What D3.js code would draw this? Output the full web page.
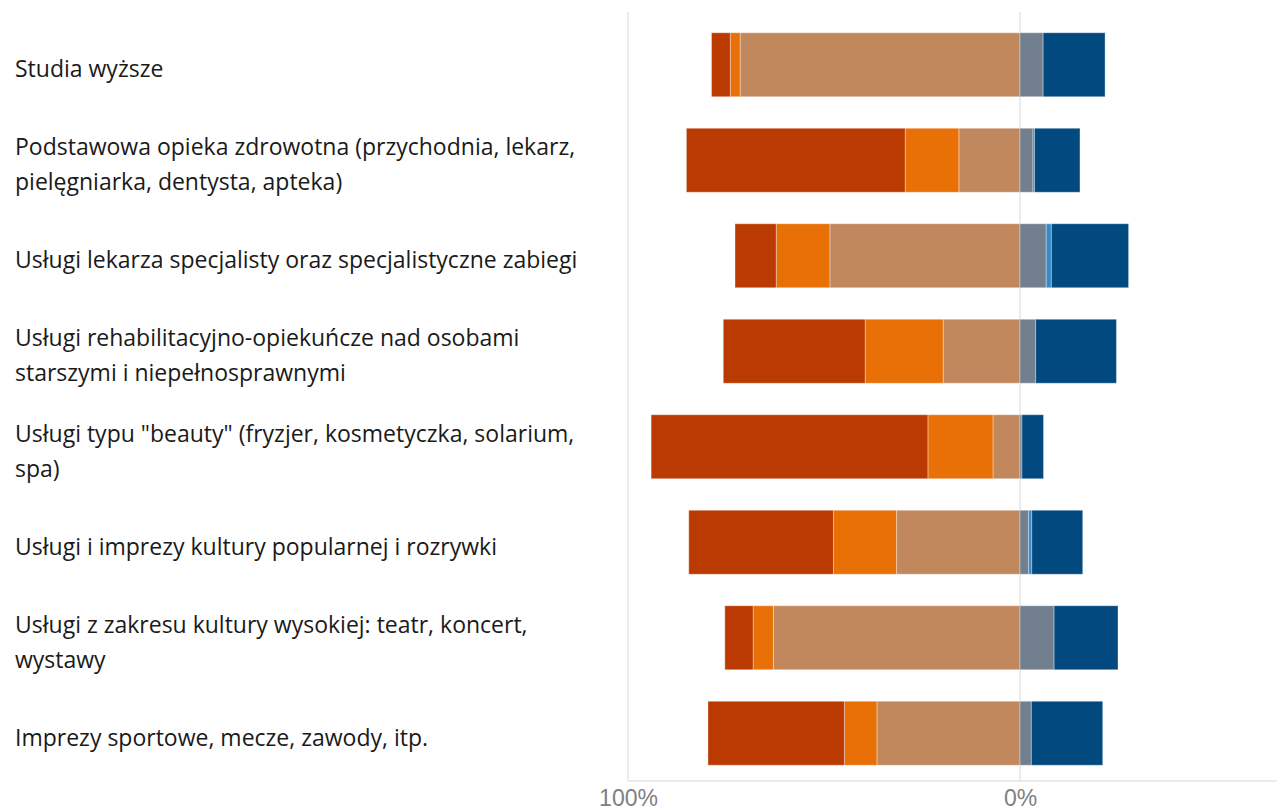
<!DOCTYPE html>
<html>
<head>
<meta charset="utf-8">
<script src="https://cdn.jsdelivr.net/npm/d3@7"></script>
<style>
  body { margin: 0; background: #fff; }
</style>
</head>
<body>
<svg id="mainsvg" width="1277" height="812"></svg>
<script>
// kategorie (etykiety z łamaniem linii jak na obrazku)
const categories = [
    "Studia wyższe",
    "Podstawowa opieka zdrowotna (przychodnia, lekarz,\npielęgniarka, dentysta, apteka)",
    "Usługi lekarza specjalisty oraz specjalistyczne zabiegi",
    "Usługi rehabilitacyjno-opiekuńcze nad osobami\nstarszymi i niepełnosprawnymi",
    "Usługi typu \"beauty\" (fryzjer, kosmetyczka, solarium,\nspa)",
    "Usługi i imprezy kultury popularnej i rozrywki",
    "Usługi z zakresu kultury wysokiej: teatr, koncert,\nwystawy",
    "Imprezy sportowe, mecze, zawody, itp."
]

// wartości w % (lewa strona: s1..s3, prawa: s4..s6)
const s1 = [4.8, 55.8, 10.5, 36.2, 70.6, 36.9, 7.2, 34.8]
const s2 = [2.5, 13.7, 13.7, 19.9, 16.6, 16.1, 5.2, 8.3]
const s3 = [71.4, 15.6, 48.5, 19.6, 6.9, 31.5, 62.9, 36.5]
const s4 = [5.9, 3.3, 6.7, 4.0, 0.5, 2.2, 8.7, 2.9]
const s5 = [0, 0.4, 1.3, 0, 0, 0.8, 0, 0]
const s6 = [15.8, 11.6, 19.7, 20.6, 5.5, 13.0, 16.3, 18.2]

const tickValues = [-100, 0]

const leftSeries = [s1, s2, s3]   // od zewnątrz do środka
const rightSeries = [s4, s5, s6]  // od środka na zewnątrz
const leftColors = ["#BB3A02", "#E97007", "#C2885D"]
const rightColors = ["#717F8E", "#3A87C8", "#024980"]

const svg = d3.select('#mainsvg')
const width = +svg.attr("width")
const height = +svg.attr("height")

// skale
const xScale = d3.scaleLinear()
    .domain([-100, 100])
    .range([628, 1412])

const yScale = d3.scaleBand()
    .domain(categories)
    .range([17, 781])
    .paddingInner(0.33)
    .paddingOuter(0.165)

// linie siatki
const grid = svg.append("g")
tickValues.forEach(v => {
    grid.append("line")
        .attr("x1", xScale(v)).attr("x2", xScale(v))
        .attr("y1", 12).attr("y2", 781)
        .attr("stroke", "#e4e4e4")
        .attr("stroke-width", 1.5)
})
grid.append("line")
    .attr("x1", xScale(-100)).attr("x2", width)
    .attr("y1", 781).attr("y2", 781)
    .attr("stroke", "#e4e4e4")
    .attr("stroke-width", 1.5)

// słupki
const bars = svg.append("g")
categories.forEach((c, i) => {
    // lewa strona: sumujemy od środka w lewo
    let acc = 0
    for (let k = leftSeries.length - 1; k >= 0; k--) {
        const v = leftSeries[k][i]
        if (v > 0) {
            bars.append("rect")
                .attr("x", xScale(-(acc + v)))
                .attr("width", xScale(-acc) - xScale(-(acc + v)))
                .attr("y", yScale(c))
                .attr("height", yScale.bandwidth())
                .attr("fill", leftColors[k])
                .attr("stroke", "rgba(255,255,255,0.35)")
                .attr("stroke-width", 1)
        }
        acc += v
    }
    // prawa strona
    acc = 0
    rightSeries.forEach((s, k) => {
        const v = s[i]
        if (v > 0) {
            bars.append("rect")
                .attr("x", xScale(acc))
                .attr("width", xScale(acc + v) - xScale(acc))
                .attr("y", yScale(c))
                .attr("height", yScale.bandwidth())
                .attr("fill", rightColors[k])
                .attr("stroke", "rgba(255,255,255,0.35)")
                .attr("stroke-width", 1)
        }
        acc += v
    })
})

// oś x
const xAxis = d3.axisBottom(xScale)
    .tickValues(tickValues)
    .tickSize(0)
    .tickFormat(d => Math.abs(d) + "%")
const ax = svg.append("g").attr("transform", "translate(0, 781)").call(xAxis)
ax.select(".domain").remove()
ax.selectAll(".tick text")
    .attr("y", 25)
    .attr("dy", 0)
    .attr("font-family", "'Liberation Sans', Arial, sans-serif")
    .attr("font-size", "23px")
    .attr("fill", "#7f7f7f")

// etykiety kategorii
const lineH = 35
categories.forEach(c => {
    const lines = c.split("\n")
    const cy = yScale(c) + yScale.bandwidth() / 2 + 4.5
    const t = svg.append("text")
        .attr("x", 15)
        .attr("font-family", "'Open Sans', 'Noto Sans', sans-serif")
        .attr("font-size", "23px")
        .attr("fill", "#1a1a1a")
    lines.forEach((l, j) => {
        t.append("tspan")
            .attr("x", 15)
            .attr("y", cy + (j - (lines.length - 1) / 2) * lineH)
            .attr("dy", "0.35em")
            .text(l)
    })
})
</script>
</body>
</html>
